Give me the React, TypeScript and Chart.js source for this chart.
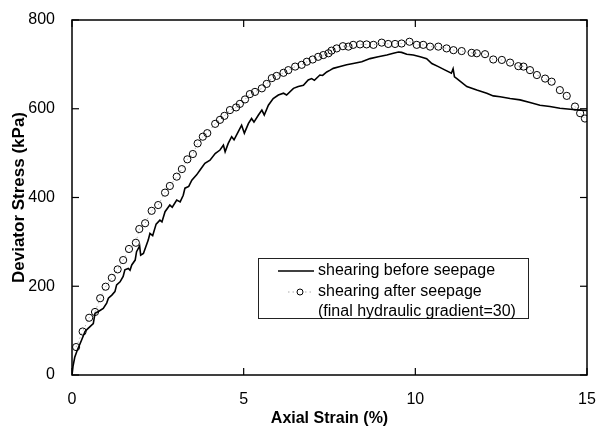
import React, { useEffect, useRef } from "react";
import { Chart, registerables } from "chart.js";

Chart.register(...registerables);

// ---- Data ----
const beforeStrain = [
  0, 0.03, 0.08, 0.15, 0.28, 0.38, 0.47, 0.62, 0.67, 0.77, 0.91, 1.01, 1.06, 1.16, 1.25, 1.3, 1.4, 1.49,
  1.54, 1.64, 1.69, 1.74, 1.84, 1.88, 1.97, 2.0, 2.08, 2.22, 2.27, 2.35, 2.45, 2.56, 2.62, 2.71, 2.85, 2.92,
  3.05, 3.15, 3.24, 3.29, 3.4, 3.49, 3.63, 3.73, 3.87, 4.02, 4.17, 4.31, 4.41, 4.46, 4.55, 4.65, 4.72, 4.84,
  4.94, 5.02, 5.14, 5.23, 5.3, 5.43, 5.53, 5.6, 5.72, 5.86, 6.01, 6.16, 6.25, 6.45, 6.59, 6.74, 6.88, 6.98,
  7.06, 7.22, 7.3, 7.42, 7.52, 7.61, 7.81, 8.0, 8.19, 8.44, 8.68, 8.92, 9.17, 9.36, 9.51, 9.6, 9.75, 9.94,
  10.14, 10.33, 10.48, 10.67, 10.87, 11.05, 11.1, 11.14, 11.21, 11.5, 11.79, 12.08, 12.27, 12.47, 12.76,
  13.05, 13.34, 13.63, 13.92, 14.21, 14.51, 14.8, 15.0,
];
const beforeStress = [
  0, 20, 40, 55, 79, 98, 105, 116, 139, 143, 150, 162, 173, 180, 188, 203, 210, 222,
  237, 240, 236, 248, 259, 278, 291, 270, 274, 304, 319, 314, 340, 349, 345, 368, 383, 378,
  394, 390, 405, 421, 425, 439, 451, 462, 477, 484, 499, 507, 518, 503, 522, 537, 530, 548,
  563, 545, 567, 578, 570, 586, 597, 586, 608, 623, 631, 635, 631, 646, 650, 653, 665, 668,
  664, 676, 675, 683, 687, 691, 695, 699, 702, 706, 713, 717, 721, 725, 728, 727, 723, 721,
  717, 713, 702, 695, 687, 680, 690, 672, 668, 650, 642, 635, 629, 627, 623,
  620, 614, 608, 605, 601, 599, 597, 596,
];
const afterStrain = [
  0.12, 0.31, 0.5, 0.67, 0.82, 0.98, 1.16, 1.33, 1.49, 1.66, 1.86, 1.96, 2.13, 2.32, 2.51, 2.71, 2.85,
  3.05, 3.2, 3.36, 3.52, 3.66, 3.81, 3.94, 4.17, 4.31, 4.44, 4.6, 4.78, 4.89, 5.04, 5.18, 5.33, 5.53,
  5.67, 5.82, 5.96, 6.16, 6.3, 6.5, 6.69, 6.84, 7.01, 7.17, 7.32, 7.47, 7.56, 7.71, 7.89, 8.05, 8.19,
  8.39, 8.58, 8.78, 9.02, 9.21, 9.41, 9.6, 9.83, 10.04, 10.23, 10.43, 10.67, 10.91, 11.11, 11.35, 11.64,
  11.79, 12.03, 12.27, 12.52, 12.76, 13.0, 13.15, 13.34, 13.54, 13.78, 13.97, 14.21, 14.41, 14.65, 14.8,
  14.94,
];
const afterStress = [
  63, 98, 129, 142, 173, 199, 219, 238, 259, 284, 298, 329, 342, 370, 383, 411, 426,
  447, 464, 486, 498, 522, 537, 545, 566, 575, 584, 597, 603, 611, 621, 633, 638, 646,
  656, 669, 674, 681, 687, 695, 699, 706, 711, 717, 721, 725, 731, 736, 741, 740, 744,
  745, 745, 744, 749, 746, 746, 747, 751, 744, 744, 740, 740, 736, 732, 730, 726,
  725, 723, 711, 710, 704, 696, 695, 687, 676, 668, 661, 642, 629, 605, 590,
  578,
];

const xTicks = [0, 5, 10, 15];
const yTicks = [0, 200, 400, 600, 800];
const legendLabels = [
  "shearing before seepage",
  "shearing after seepage",
  "(final hydraulic gradient=30)",
];
const xTitle = "Axial Strain (%)";
const yTitle = "Deviator Stress (kPa)";

const FONT = '"Liberation Sans", Arial, Helvetica, sans-serif';

const framePlugin = {
  id: "frameAndLegend",
  afterDatasetsDraw(chart: any) {
    const { ctx, chartArea: a, scales } = chart;
    ctx.save();
    ctx.strokeStyle = "#000";
    ctx.lineWidth = 1.5;
    ctx.strokeRect(a.left, a.top, a.right - a.left, a.bottom - a.top);

    // inward ticks on all four sides
    ctx.lineWidth = 1.2;
    const L = 7;
    const seg = (x1: number, y1: number, x2: number, y2: number) => {
      ctx.beginPath();
      ctx.moveTo(x1, y1);
      ctx.lineTo(x2, y2);
      ctx.stroke();
    };
    for (const v of xTicks) {
      const px = scales.x.getPixelForValue(v);
      seg(px, a.bottom, px, a.bottom - L);
      seg(px, a.top, px, a.top + L);
    }
    for (const v of yTicks) {
      const py = scales.y.getPixelForValue(v);
      seg(a.left, py, a.left + L, py);
      seg(a.right, py, a.right - L, py);
    }

    // legend box
    const bx = 258, by = 258, bw = 270, bh = 60;
    ctx.fillStyle = "#fff";
    ctx.fillRect(bx, by, bw, bh);
    ctx.strokeStyle = "#222";
    ctx.lineWidth = 1;
    ctx.strokeRect(bx + 0.5, by + 0.5, bw, bh);

    // row 1: solid line
    ctx.strokeStyle = "#000";
    ctx.lineWidth = 1.5;
    seg(bx + 20, by + 13, bx + 56, by + 13);

    // row 2: dotted line with circle
    ctx.strokeStyle = "#aaa";
    ctx.lineWidth = 1;
    ctx.setLineDash([1.5, 3]);
    seg(bx + 30, by + 34, bx + 38, by + 34);
    seg(bx + 47, by + 34, bx + 56, by + 34);
    ctx.setLineDash([]);
    ctx.strokeStyle = "#000";
    ctx.beginPath();
    ctx.arc(bx + 42, by + 34, 3, 0, Math.PI * 2);
    ctx.stroke();

    ctx.fillStyle = "#000";
    ctx.font = `16px ${FONT}`;
    ctx.textBaseline = "middle";
    ctx.textAlign = "left";
    ctx.fillText(legendLabels[0], bx + 60, by + 13);
    ctx.fillText(legendLabels[1], bx + 60, by + 34);
    ctx.fillText(legendLabels[2], bx + 60, by + 54);
    ctx.restore();
  },
};

export default function App() {
  const ref = useRef<HTMLCanvasElement | null>(null);

  useEffect(() => {
    const canvas = ref.current;
    if (!canvas) return;
    Chart.defaults.font.family = FONT;
    Chart.defaults.color = "#000";

    const before = beforeStrain.map((x, i) => ({ x, y: beforeStress[i] }));
    const after = afterStrain.map((x, i) => ({ x, y: afterStress[i] }));

    const chart = new Chart(canvas, {
      type: "scatter",
      data: {
        datasets: [
          {
            label: legendLabels[0],
            data: before,
            showLine: true,
            borderColor: "#000",
            borderWidth: 1.6,
            pointRadius: 0,
            tension: 0,
          },
          {
            label: legendLabels[1],
            data: after,
            showLine: true,
            borderColor: "#b0b0b0",
            borderWidth: 1,
            borderDash: [1.5, 3],
            pointRadius: 3.6,
            pointBorderWidth: 1,
            pointBorderColor: "#000",
            pointBackgroundColor: "rgba(255,255,255,0)",
            pointStyle: "circle",
            tension: 0,
          },
        ],
      },
      options: {
        responsive: false,
        animation: false,
        devicePixelRatio: 1,
        layout: { padding: { left: 0, top: 20, right: 19, bottom: 0 } },
        plugins: {
          legend: { display: false },
          tooltip: { enabled: false },
          title: { display: false },
        },
        scales: {
          x: {
            type: "linear",
            min: 0,
            max: 15,
            grid: { display: false },
            border: { display: false },
            afterFit: (s: any) => {
              s.height = 53;
            },
            ticks: {
              stepSize: 5,
              padding: 7,
              font: { size: 16 },
              color: "#000",
            },
            title: {
              display: true,
              text: xTitle,
              font: { size: 16, weight: "bold" },
              color: "#000",
              padding: { top: 0, bottom: 0 },
            },
          },
          y: {
            type: "linear",
            min: 0,
            max: 800,
            grid: { display: false },
            border: { display: false },
            afterFit: (s: any) => {
              s.width = 72;
            },
            ticks: {
              stepSize: 200,
              padding: 9,
              font: { size: 16 },
              color: "#000",
            },
            title: {
              display: true,
              text: yTitle,
              font: { size: 17, weight: "bold" },
              color: "#000",
              padding: { top: 9, bottom: 0 },
            },
          },
        },
      },
      plugins: [framePlugin],
    } as any);

    return () => chart.destroy();
  }, []);

  return (
    <div style={{ position: "absolute", left: 0, top: 0, width: 606, height: 428, background: "#fff" }}>
      <canvas ref={ref} width={606} height={428} style={{ display: "block", width: 606, height: 428 }} />
    </div>
  );
}
